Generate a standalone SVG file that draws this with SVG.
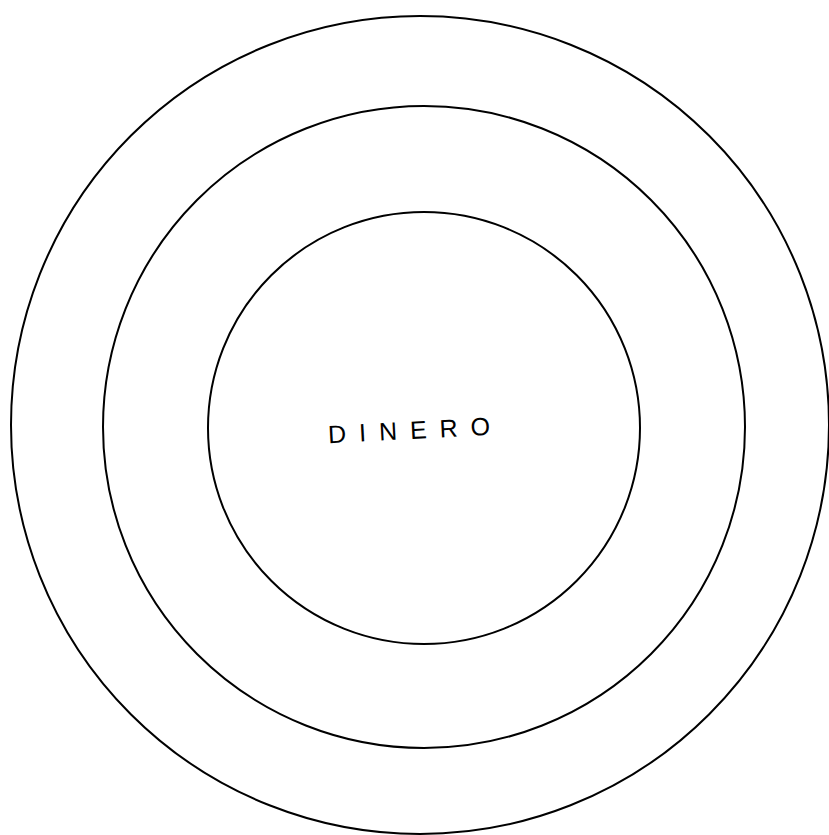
<svg xmlns="http://www.w3.org/2000/svg" width="829" height="835" viewBox="0 0 829 835">
<style>
.ring{fill:none;stroke:#000;stroke-width:2}
.lbl{font-family:"Liberation Sans",Arial,sans-serif;font-size:25px;font-weight:normal;fill:#000}
</style>
<rect width="829" height="835" fill="#fff"/>
<g id="outer"><circle class="ring" cx="420" cy="425" r="409"/></g>
<g id="middle"><circle class="ring" cx="424" cy="427" r="321"/></g>
<g id="inner"><circle class="ring" cx="424" cy="428" r="216"/>
<text class="lbl" x="328" y="439" textLength="162" lengthAdjust="spacing" transform="rotate(-3 409 430)">DINERO</text></g>
<g id="connectors"></g>
</svg>
